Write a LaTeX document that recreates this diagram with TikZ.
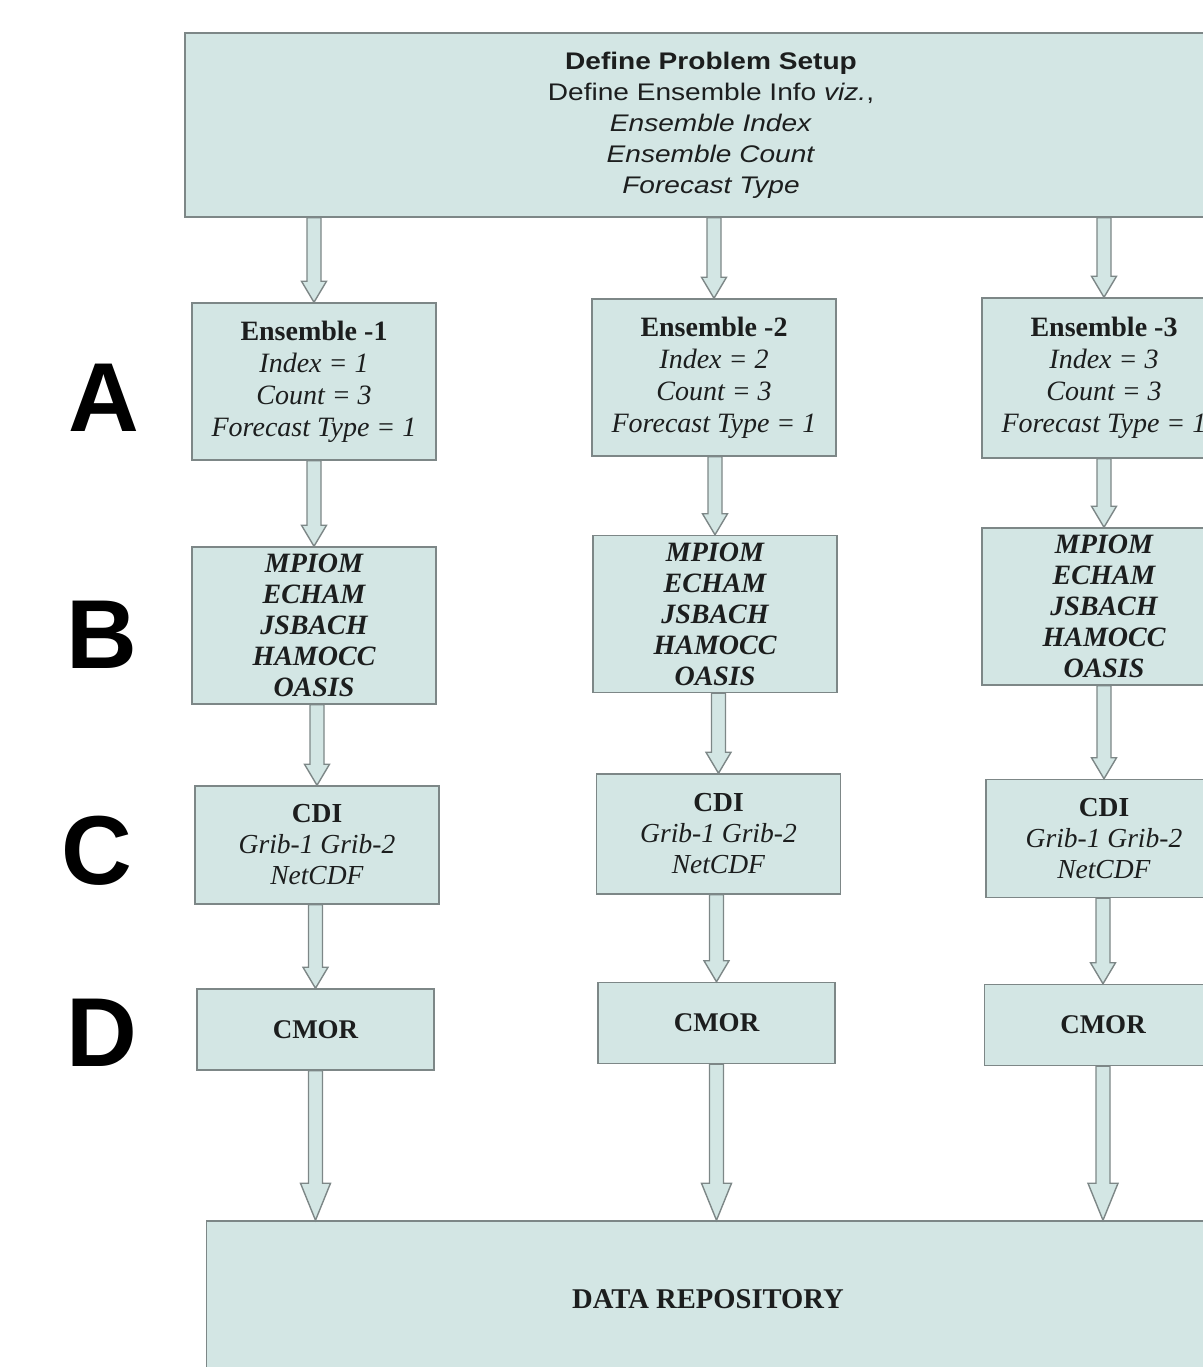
\documentclass[tikz,border=0pt]{standalone}
\usepackage{fontspec}
\setmainfont{Liberation Serif}
\newfontfamily\headfont[FakeStretch=1.17]{Liberation Sans}
\newfontfamily\letterfont{Liberation Sans}
\usetikzlibrary{calc}
\definecolor{boxfill}{RGB}{211,230,228}
\definecolor{boxline}{RGB}{125,135,135}
\definecolor{inkdark}{RGB}{28,30,30}
\tikzset{
  flowhead/.store in=\flowhead, flowwing/.store in=\flowwing,
  flowhead=10.5pt, flowwing=6.25pt,
  stage/.style={draw=boxline, line width=0.75pt, fill=boxfill, text=inkdark,
    align=center, inner sep=0pt, font=\fontsize{13.5pt}{16pt}\selectfont},
  ensbox/.style={stage, minimum width=122pt, minimum height=78.5pt,
    font=\fontsize{14pt}{16pt}\selectfont},
  modbox/.style={stage, minimum width=122pt, minimum height=78.5pt,
    font=\bfseries\itshape\fontsize{14pt}{15.5pt}\selectfont},
  cdibox/.style={stage, minimum width=122pt, minimum height=59pt,
    font=\fontsize{13.75pt}{15.5pt}\selectfont},
  cmorbox/.style={stage, minimum width=118.5pt, minimum height=40.5pt,
    font=\bfseries\fontsize{13.5pt}{15.5pt}\selectfont},
  flow/.style={draw=boxline, line width=0.7pt, fill=boxfill,
    to path={let \p1=(\tikztostart), \p2=(\tikztotarget) in
      (\x2-3.5pt,\y1) -- (\x2-3.5pt,\y2+\flowhead) -- (\x2-\flowwing,\y2+\flowhead)
      -- (\x2,\y2) -- (\x2+\flowwing,\y2+\flowhead) -- (\x2+3.5pt,\y2+\flowhead)
      -- (\x2+3.5pt,\y1) -- cycle}},
  bigflow/.style={flow, flowhead=18.5pt, flowwing=7.5pt},
  rowlabel/.style={font=\letterfont\bfseries\fontsize{49pt}{49pt}\selectfont, inner sep=0pt}
}
\begin{document}
\begin{tikzpicture}[x=0.5pt,y=-0.5pt]
\useasboundingbox (0,0) rectangle (1203,1367);
\clip (0,0) rectangle (1203,1367);
% problem setup
\node[stage, minimum width=526pt, minimum height=92pt,
  font=\headfont\fontsize{12pt}{15.5pt}\selectfont] (setup) at (711,125)
  {\textbf{Define Problem Setup}\\Define Ensemble Info \textit{viz.},\\
   \textit{Ensemble Index}\\\textit{Ensemble Count}\\\textit{Forecast Type}};
% ensembles
\node[ensbox] (ens1) at (314,381.5) {\textbf{Ensemble -1}\\\textit{Index = 1}\\\textit{Count = 3}\\\textit{Forecast Type = 1}};
\node[ensbox] (ens2) at (714,377.5) {\textbf{Ensemble -2}\\\textit{Index = 2}\\\textit{Count = 3}\\\textit{Forecast Type = 1}};
\node[ensbox, minimum height=80pt] (ens3) at (1104,378) {\textbf{Ensemble -3}\\\textit{Index = 3}\\\textit{Count = 3}\\\textit{Forecast Type = 1}};
% model components
\node[modbox] (mod1) at (314,625.5) {MPIOM\\ECHAM\\JSBACH\\HAMOCC\\OASIS};
\node[modbox] (mod2) at (715,614) {MPIOM\\ECHAM\\JSBACH\\HAMOCC\\OASIS};
\node[modbox] (mod3) at (1104,606.5) {MPIOM\\ECHAM\\JSBACH\\HAMOCC\\OASIS};
% cdi
\node[cdibox] (cdi1) at (317,845) {\textbf{CDI}\\\textit{Grib-1 Grib-2}\\\textit{NetCDF}};
\node[cdibox, minimum height=60pt] (cdi2) at (718.5,834) {\textbf{CDI}\\\textit{Grib-1 Grib-2}\\\textit{NetCDF}};
\node[cdibox, minimum width=118pt] (cdi3) at (1104,838.5) {\textbf{CDI}\\\textit{Grib-1 Grib-2}\\\textit{NetCDF}};
% cmor
\node[cmorbox] (cmor1) at (315.5,1029.5) {CMOR};
\node[cmorbox] (cmor2) at (716.5,1023) {CMOR};
\node[cmorbox] (cmor3) at (1103,1025) {CMOR};
% repository
\node[stage, minimum width=501.5pt, minimum height=78pt, font=\bfseries\fontsize{14.3pt}{16pt}\selectfont]
  (repo) at (708,1299) {DATA REPOSITORY};
% row letters
\node[rowlabel] (la) at (104,398) {A};
\node[rowlabel] (lb) at (102,635) {B};
\node[rowlabel] (lc) at (97,851) {C};
\node[rowlabel] (ld) at (102,1033) {D};
% arrows
\foreach \i in {1,2,3} {
  \draw[flow] (setup.south) to (ens\i.north);
  \draw[flow] (ens\i.south) to (mod\i.north);
  \draw[flow] (mod\i.south) to (cdi\i.north);
  \draw[flow] (cdi\i.south) to (cmor\i.north);
  \draw[bigflow] (cmor\i.south) to (cmor\i.south |- repo.north);
}
\end{tikzpicture}
\end{document}
